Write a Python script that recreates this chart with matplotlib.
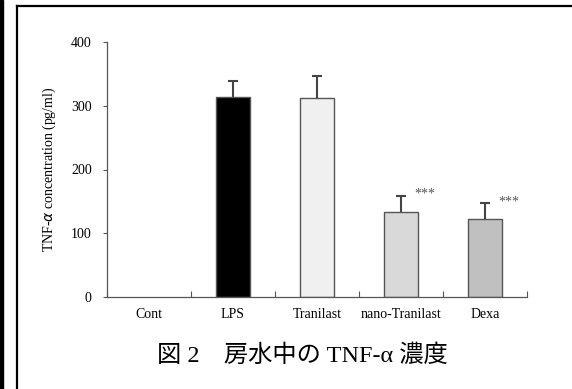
import matplotlib
matplotlib.use("Agg")
import matplotlib.pyplot as plt
from matplotlib.lines import Line2D
from matplotlib.patches import Rectangle

categories = ["Cont", "LPS", "Tranilast", "nano-Tranilast", "Dexa"]
means = [0, 313, 312, 133, 123]
errors = [0, 26, 35, 26, 24]
bar_colors = ["white", "#000000", "#f0f0f0", "#d9d9d9", "#c0c0c0"]
marks = ["", "", "", "***", "***"]
y_ticks = [0, 100, 200, 300, 400]

W, H = 572, 389
fig = plt.figure(figsize=(W / 100, H / 100), dpi=100)
fig.patch.set_facecolor("white")

serif = ["Liberation Serif", "DejaVu Serif"]

ax = fig.add_axes([107 / W, 1 - 297 / H, 420 / W, 255 / H])
x = list(range(len(categories)))
for i in x:
    if means[i] > 0:
        ax.bar(i, means[i], width=0.4, color=bar_colors[i],
               edgecolor="#555555", linewidth=1.0, zorder=2)
        _, caps, _ = ax.errorbar(i, means[i], yerr=[[0], [errors[i]]],
                                 fmt="none", ecolor="#444444",
                                 elinewidth=1.5, capsize=3.5,
                                 capthick=1.5, zorder=3)
        caps[0].set_visible(False)
    if marks[i]:
        ax.text(i + 0.28, means[i] + errors[i] - 3, marks[i],
                ha="center", va="baseline", fontsize=10, color="#555555",
                family=serif)

ax.set_xlim(-0.5, len(categories) - 0.5)
ax.set_ylim(0, 400)
ax.set_yticks(y_ticks)
ax.set_yticklabels([str(v) for v in y_ticks], family=serif, fontsize=10)
ax.set_xticks(x)
ax.set_xticklabels(categories, family=serif, fontsize=10)
ax.tick_params(axis="x", length=0, pad=8)
ax.set_xticks([i - 0.5 for i in range(len(categories) + 1)], minor=True)
ax.tick_params(axis="x", which="minor", direction="in", length=4,
               color="#555555", width=0.8)
ax.tick_params(axis="y", direction="out", length=3, color="#555555",
               width=0.8, pad=8)
for side in ("top", "right"):
    ax.spines[side].set_visible(False)
for side in ("left", "bottom"):
    ax.spines[side].set_color("#555555")
    ax.spines[side].set_linewidth(0.9)

ax.set_ylabel("TNF-$\\alpha$ concentration (pg/ml)", family=serif,
              fontsize=10, labelpad=9)

# caption under the chart
fig.text(302 / W, 1 - 356 / H, "図 2\u3000房水中の TNF-α 濃度",
         ha="center", va="center", fontsize=17.5,
         family=["Liberation Serif", "Noto Sans CJK JP"])

# page frame lines
fig.add_artist(Line2D([16.5 / W, 1], [1 - 6 / H, 1 - 6 / H], color="black",
                      linewidth=1.6, transform=fig.transFigure))
fig.add_artist(Line2D([17 / W, 17 / W], [0, 1 - 6 / H], color="black",
                      linewidth=1.6, transform=fig.transFigure))
fig.add_artist(Rectangle((0, 0), 2.5 / W, 1, color="black",
                         transform=fig.transFigure))

fig.savefig("out.png", dpi=100, facecolor="white")
